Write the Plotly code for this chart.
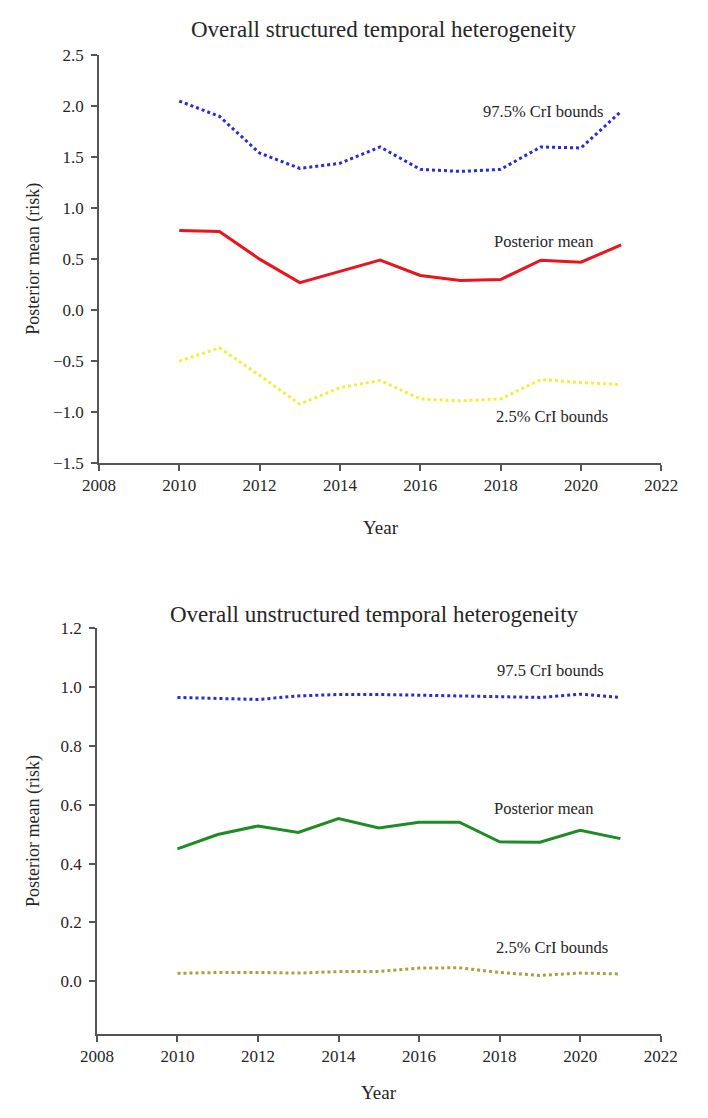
import plotly.graph_objects as go

years = [2010, 2011, 2012, 2013, 2014, 2015, 2016, 2017, 2018, 2019, 2020, 2021]

# Top chart: overall structured temporal heterogeneity
struct_upper = [2.05, 1.90, 1.54, 1.39, 1.44, 1.60, 1.38, 1.36, 1.38, 1.60, 1.59, 1.95]
struct_mean = [0.78, 0.77, 0.50, 0.27, 0.38, 0.49, 0.34, 0.29, 0.30, 0.49, 0.47, 0.64]
struct_lower = [-0.50, -0.37, -0.64, -0.92, -0.76, -0.69, -0.87, -0.89, -0.87, -0.68, -0.71, -0.73]

# Bottom chart: overall unstructured temporal heterogeneity
unstruct_upper = [0.965, 0.962, 0.958, 0.970, 0.975, 0.975, 0.972, 0.970, 0.968, 0.965, 0.976, 0.965]
unstruct_mean = [0.450, 0.499, 0.528, 0.506, 0.553, 0.521, 0.541, 0.541, 0.474, 0.473, 0.513, 0.485]
unstruct_lower = [0.027, 0.030, 0.030, 0.028, 0.033, 0.033, 0.045, 0.046, 0.030, 0.020, 0.028, 0.025]

x_ticks = [2008, 2010, 2012, 2014, 2016, 2018, 2020, 2022]
top_yticks = [-1.5, -1.0, -0.5, 0.0, 0.5, 1.0, 1.5, 2.0, 2.5]
bot_yticks = [0.0, 0.2, 0.4, 0.6, 0.8, 1.0, 1.2]

FONT = "Liberation Serif, Times New Roman, serif"
AX = "#555555"
TXT = "#262626"

fig = go.Figure()

def add(x, y, color, dash, width, xa, ya):
    fig.add_trace(go.Scatter(x=x, y=y, mode="lines", line=dict(color=color, dash=dash, width=width),
                             xaxis=xa, yaxis=ya, showlegend=False, hoverinfo="skip"))

add(years, struct_upper, "#2a2ad8", "dot", 3, "x", "y")
add(years, struct_mean, "#e8141e", "solid", 3, "x", "y")
add(years, struct_lower, "#f0f03c", "dot", 3, "x", "y")
add(years, unstruct_upper, "#2a2ad8", "dot", 3, "x2", "y2")
add(years, unstruct_mean, "#1e8c24", "solid", 3, "x2", "y2")
add(years, unstruct_lower, "#a0a63c", "dot", 3, "x2", "y2")

common_axis = dict(showline=True, linecolor=AX, linewidth=1.5, ticks="outside", ticklen=6,
                   tickcolor=AX, tickwidth=1.5, showgrid=False, zeroline=False,
                   tickfont=dict(family=FONT, size=17, color=TXT))

fig.update_layout(
    width=708, height=1118,
    margin=dict(l=0, r=0, t=0, b=0),
    paper_bgcolor="white", plot_bgcolor="white",
    font=dict(family=FONT, color=TXT),
    xaxis=dict(domain=[0.1215, 0.956], range=[2008, 2022], tickvals=x_ticks, anchor="y", **common_axis),
    yaxis=dict(domain=[0.5868, 0.958], range=[-1.5, 2.5], tickvals=top_yticks, tickformat=".1f",
               anchor="x", ticklabelstandoff=4, **common_axis),
    xaxis2=dict(domain=[0.1186, 0.955], range=[2008, 2022], tickvals=x_ticks, anchor="y2", **common_axis),
    yaxis2=dict(domain=[0.0671, 0.4365], range=[-0.18, 1.2], tickvals=bot_yticks, tickformat=".1f",
                anchor="x2", ticklabelstandoff=4, **common_axis),
)

H = 1118.0
W = 708.0
ann_font = dict(family=FONT, size=16.5, color=TXT)
title_font = dict(family=FONT, size=23, color=TXT)
label_font = dict(family=FONT, size=19, color=TXT)
annotations = [
    dict(x=385 / W, y=1 - 21 / H, xref="paper", yref="paper", text="Overall structured temporal heterogeneity",
         showarrow=False, font=title_font, xanchor="center", yanchor="middle"),
    dict(x=376 / W, y=1 - 616 / H, xref="paper", yref="paper", text="Overall unstructured temporal heterogeneity",
         showarrow=False, font=title_font, xanchor="center", yanchor="middle"),
    dict(x=382 / W, y=1 - 527 / H, xref="paper", yref="paper", text="Year",
         showarrow=False, font=label_font, xanchor="center", yanchor="middle"),
    dict(x=380 / W, y=1 - 1102 / H, xref="paper", yref="paper", text="Year",
         showarrow=False, font=label_font, xanchor="center", yanchor="middle"),
    dict(x=18 / W, y=1 - 254 / H, xref="paper", yref="paper", text="Posterior mean (risk)", textangle=-90,
         showarrow=False, font=dict(family=FONT, size=18, color=TXT), xanchor="center", yanchor="middle"),
    dict(x=18 / W, y=1 - 836 / H, xref="paper", yref="paper", text="Posterior mean (risk)", textangle=-90,
         showarrow=False, font=dict(family=FONT, size=18, color=TXT), xanchor="center", yanchor="middle"),
    dict(x=2019.07, y=1.95, xref="x", yref="y", text="97.5% CrI bounds", showarrow=False, font=ann_font),
    dict(x=2019.07, y=0.67, xref="x", yref="y", text="Posterior mean", showarrow=False, font=ann_font),
    dict(x=2019.28, y=-1.04, xref="x", yref="y", text="2.5% CrI bounds", showarrow=False, font=ann_font),
    dict(x=2019.26, y=1.056, xref="x2", yref="y2", text="97.5 CrI bounds", showarrow=False, font=ann_font),
    dict(x=2019.09, y=0.589, xref="x2", yref="y2", text="Posterior mean", showarrow=False, font=ann_font),
    dict(x=2019.3, y=0.115, xref="x2", yref="y2", text="2.5% CrI bounds", showarrow=False, font=ann_font),
]
fig.update_layout(annotations=annotations)

fig.write_html("out.html")
